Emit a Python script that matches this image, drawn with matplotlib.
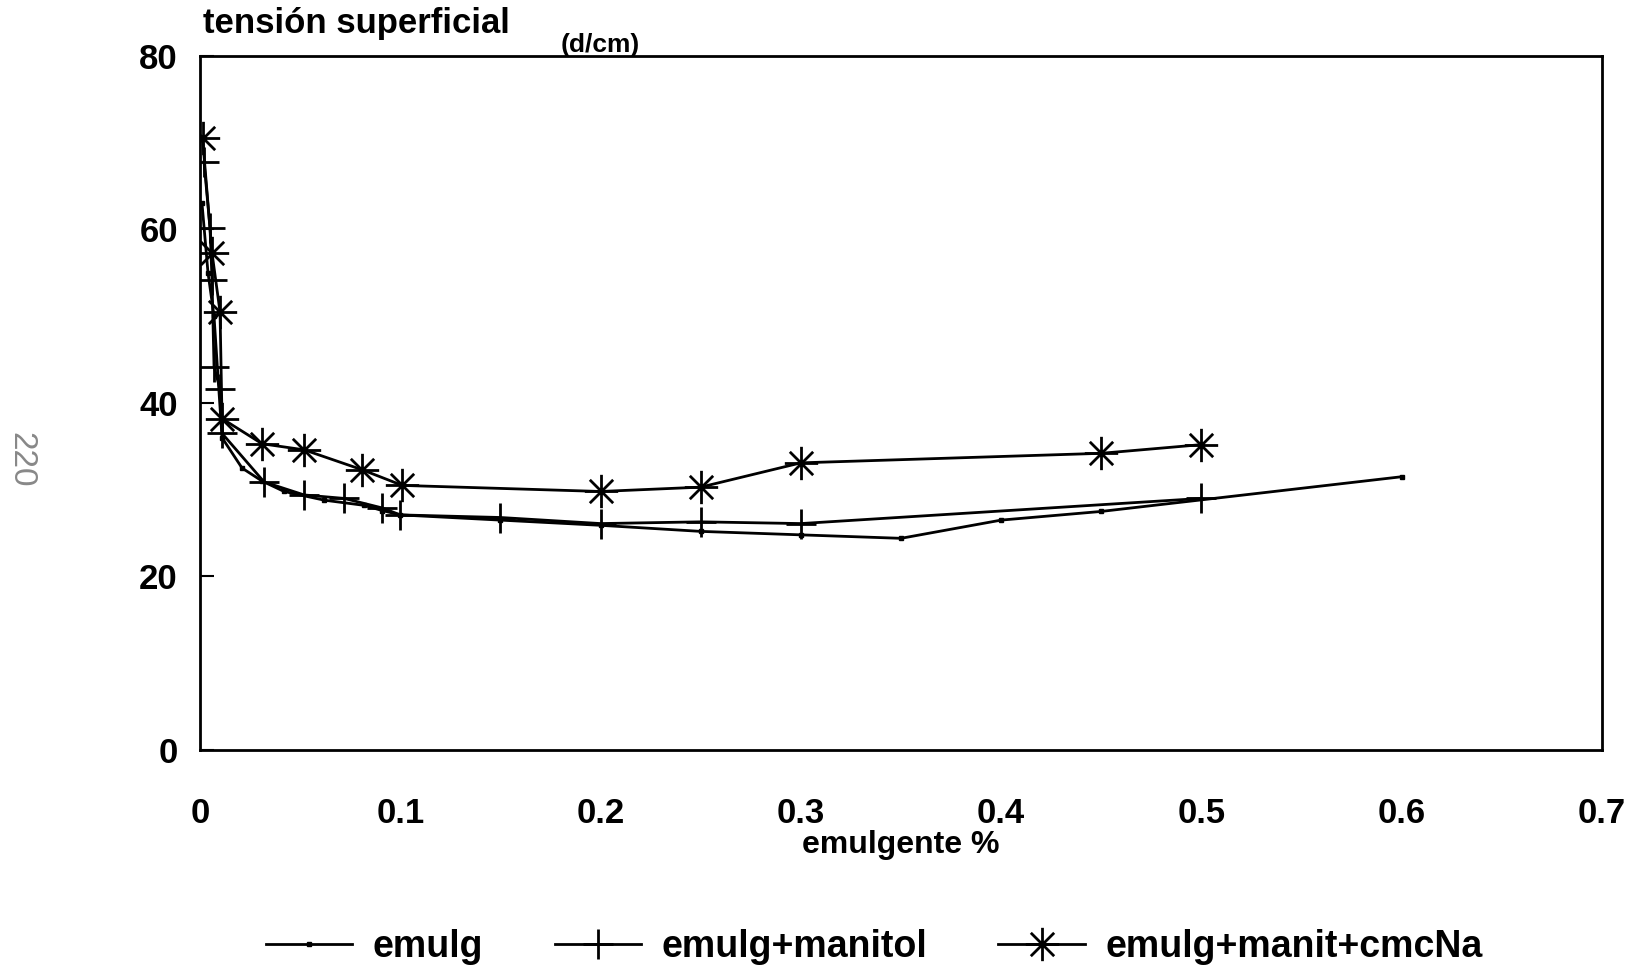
import numpy as np
import matplotlib.pyplot as plt
from matplotlib.path import Path

plt.rcParams['font.family'] = ['Liberation Sans', 'DejaVu Sans']

# emulg (small dots)
x_emulg = [0.001, 0.004, 0.007, 0.011, 0.021, 0.031, 0.042, 0.062, 0.082, 0.091, 0.1,
           0.15, 0.2, 0.25, 0.3, 0.35, 0.4, 0.45, 0.6]
y_emulg = [63, 55, 50, 36, 32.5, 31, 29.8, 28.8, 28.2, 27.6, 27.1,
           26.5, 25.9, 25.2, 24.8, 24.4, 26.5, 27.5, 31.5]

# emulg+manitol (plus)
x_manitol = [0.002, 0.005, 0.006, 0.007, 0.01, 0.011, 0.032, 0.052, 0.072, 0.091, 0.1,
             0.15, 0.2, 0.25, 0.3, 0.5]
y_manitol = [67.8, 60.2, 54.2, 44.2, 41.6, 36.5, 30.9, 29.4, 29.0, 27.9, 27.1,
             26.8, 26.1, 26.3, 26.1, 29.0]

# emulg+manit+cmcNa (asterisk)
x_cmc = [0.0013, 0.006, 0.01, 0.011, 0.031, 0.052, 0.081, 0.101, 0.2, 0.25, 0.3, 0.45, 0.5]
y_cmc = [70.5, 57.3, 50.5, 38.2, 35.3, 34.6, 32.3, 30.5, 29.8, 30.3, 33.1, 34.2, 35.2]

# 8-arm asterisk marker
star = Path([(0, -1), (0, 1), (-1, 0), (1, 0), (-0.7, -0.7), (0.7, 0.7), (-0.7, 0.7), (0.7, -0.7)],
            [Path.MOVETO, Path.LINETO] * 4)

fig = plt.figure(figsize=(16.34, 9.72), dpi=100)
ax = fig.add_axes([0.1224, 0.2284, 0.858, 0.714])

ax.plot(x_emulg, y_emulg, color='black', lw=2, marker='s', ms=3.5, label='emulg')
ax.plot(x_manitol, y_manitol, color='black', lw=2, marker='+', ms=22, mew=2, label='emulg+manitol')
ax.plot(x_cmc, y_cmc, color='black', lw=2, marker=star, ms=24, mew=2, label='emulg+manit+cmcNa')

ax.set_xlim(0, 0.7)
ax.set_ylim(0, 80)
ax.set_xticks([0, 0.1, 0.2, 0.3, 0.4, 0.5, 0.6, 0.7])
ax.set_xticklabels(['0', '0.1', '0.2', '0.3', '0.4', '0.5', '0.6', '0.7'])
ax.set_yticks([0, 20, 40, 60, 80])
ax.tick_params(axis='x', length=0, pad=34, labelsize=25)
ax.tick_params(axis='y', direction='in', length=10, width=1.5, pad=16, labelsize=25)
for lab in ax.get_xticklabels() + ax.get_yticklabels():
    lab.set_fontweight('bold')
for s in ax.spines.values():
    s.set_linewidth(2)

ax.set_xlabel('emulgente %', fontsize=23, fontweight='bold', labelpad=0)

fig.text(0.124, 0.976, 'tensión superficial', fontsize=25, fontweight='bold', va='center', ha='left')
fig.text(0.343, 0.954, '(d/cm)', fontsize=19, fontweight='bold', va='center', ha='left')
fig.text(0.013, 0.527, '220', fontsize=24, color='#888888', rotation=-90, va='center', ha='center')

fig.legend(loc='center', bbox_to_anchor=(0.535, 0.026), ncol=3, frameon=False,
           handlelength=2.3, columnspacing=1.9, handletextpad=0.55,
           prop={'weight': 'bold', 'size': 27})

fig.savefig('out.png', dpi=100)
